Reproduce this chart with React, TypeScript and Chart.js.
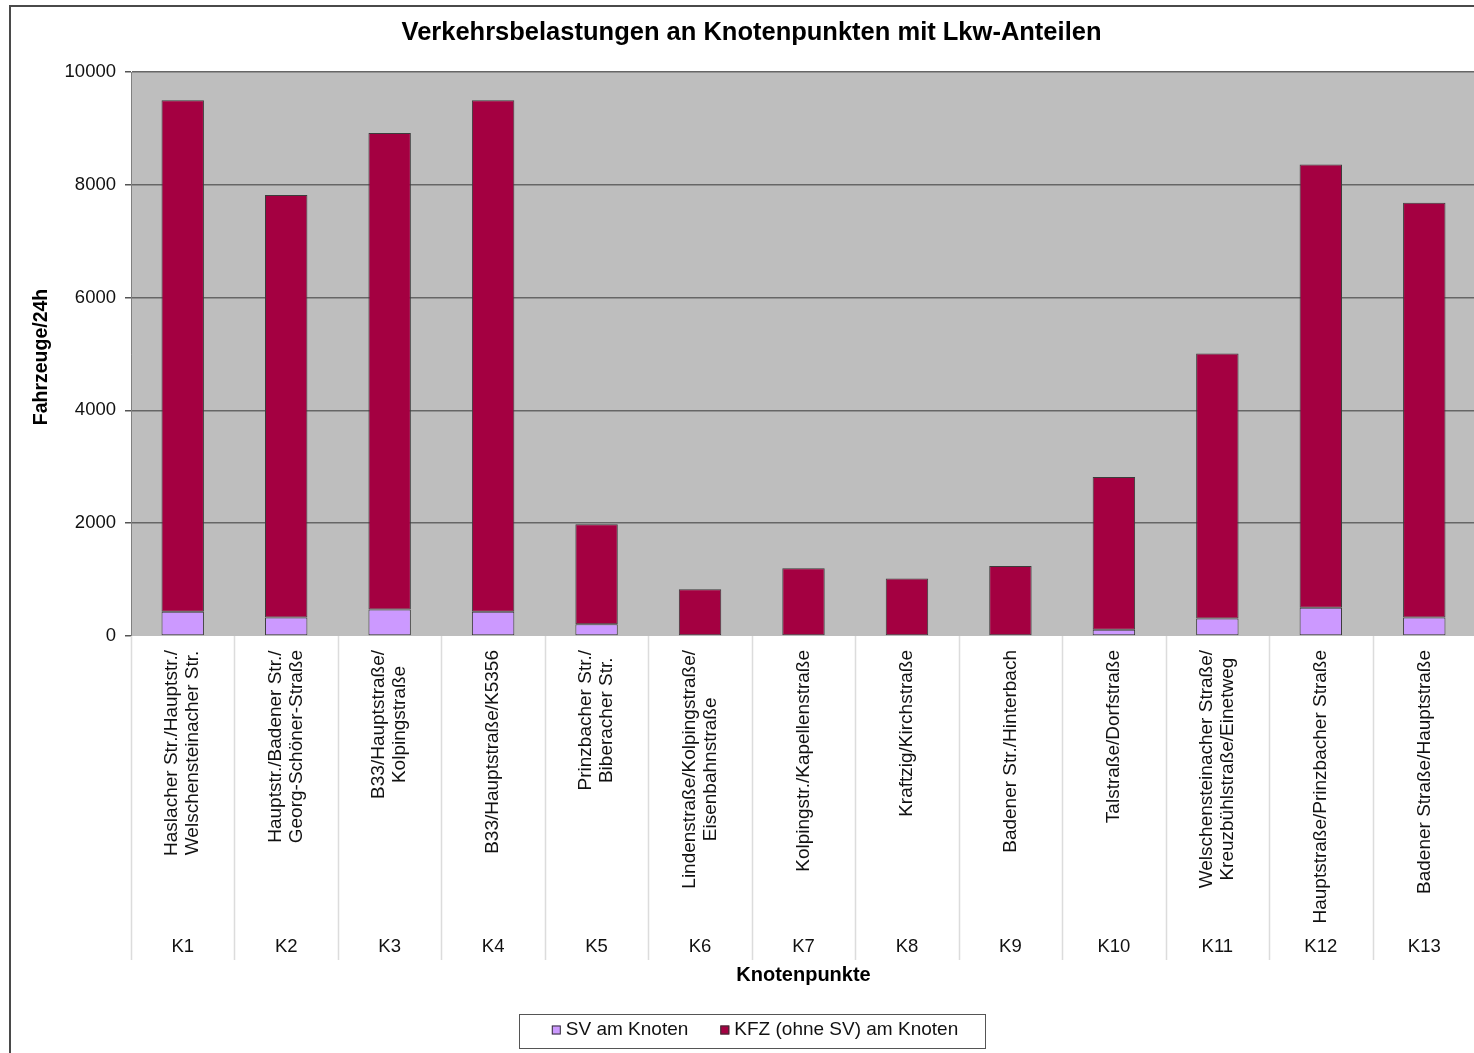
import React, { useEffect, useRef } from "react";
import { Chart, registerables } from "chart.js";

Chart.register(...registerables);

const chartTitle = "Verkehrsbelastungen an Knotenpunkten mit Lkw-Anteilen";
const yAxisTitle = "Fahrzeuge/24h";
const xAxisTitle = "Knotenpunkte";

const categories = ["K1", "K2", "K3", "K4", "K5", "K6", "K7", "K8", "K9", "K10", "K11", "K12", "K13"];

const streetLabels: string[][] = [
  ["Haslacher Str./Hauptstr./", "Welschensteinacher Str."],
  ["Hauptstr./Badener Str./", "Georg-Schöner-Straße"],
  ["B33/Hauptstraße/", "Kolpingstraße"],
  ["B33/Hauptstraße/K5356"],
  ["Prinzbacher Str./", "Biberacher Str."],
  ["Lindenstraße/Kolpingstraße/", "Eisenbahnstraße"],
  ["Kolpingstr./Kapellenstraße"],
  ["Kraftzig/Kirchstraße"],
  ["Badener Str./Hinterbach"],
  ["Talstraße/Dorfstraße"],
  ["Welschensteinacher Straße/", "Kreuzbühlstraße/Einetweg"],
  ["Hauptstraße/Prinzbacher Straße"],
  ["Badener Straße/Hauptstraße"],
];

const seriesNames = ["SV am Knoten", "KFZ (ohne SV) am Knoten"];
const svValues = [430, 330, 470, 430, 210, 0, 0, 0, 0, 110, 310, 500, 330];
const kfzValues = [9070, 7490, 8450, 9070, 1770, 830, 1200, 1020, 1240, 2710, 4700, 7860, 7350];

const yMin = 0;
const yMax = 10000;
const yStep = 2000;

const FONT = '"Liberation Sans", Arial, Helvetica, sans-serif';
const SV_COLOR = "#CC99FF";
const KFZ_COLOR = "#A40041";
const BAR_BORDER = "#3c3c3c";
const PLOT_BG = "#BEBEBE";

const CANVAS_W = 1490;
const CANVAS_H = 1053;

const customPlugin = {
  id: "customDecor",
  beforeDraw(chart: any) {
    const ctx = chart.ctx;
    const area = chart.chartArea;
    ctx.save();
    ctx.fillStyle = "#ffffff";
    ctx.fillRect(0, 0, chart.width, chart.height);
    // outer frame
    ctx.strokeStyle = "#4a4a4a";
    ctx.lineWidth = 2;
    ctx.strokeRect(10, 6, 2000, 2000);
    // plot background
    ctx.fillStyle = PLOT_BG;
    ctx.fillRect(area.left, area.top, area.right - area.left, area.bottom - area.top);
    ctx.restore();
  },
  afterDraw(chart: any) {
    const ctx = chart.ctx;
    const area = chart.chartArea;
    const xs = chart.scales.x;
    const n = categories.length;
    const catW = (xs.right - xs.left) / n;
    ctx.save();

    // title
    ctx.fillStyle = "#000";
    ctx.font = `bold 25.5px ${FONT}`;
    ctx.textAlign = "center";
    ctx.textBaseline = "middle";
    ctx.fillText(chartTitle, 751.5, 33);

    // y axis title
    ctx.save();
    ctx.translate(42, (area.top + area.bottom) / 2 + 3);
    ctx.rotate(-Math.PI / 2);
    ctx.font = `bold 19.5px ${FONT}`;
    ctx.fillText(yAxisTitle, 0, 0);
    ctx.restore();

    // category separators
    ctx.strokeStyle = "#dcdcdc";
    ctx.lineWidth = 1.5;
    for (let i = 0; i <= n; i++) {
      const bx = Math.round(xs.left + i * catW) + 0.5;
      ctx.beginPath();
      ctx.moveTo(bx, area.bottom);
      ctx.lineTo(bx, 960);
      ctx.stroke();
    }

    // rotated street labels
    ctx.fillStyle = "#111";
    ctx.font = `19px ${FONT}`;
    ctx.textAlign = "center";
    ctx.textBaseline = "middle";
    for (let i = 0; i < n; i++) {
      const cx = xs.getPixelForValue(i);
      const lines = streetLabels[i];
      let maxW = 0;
      lines.forEach((l) => {
        maxW = Math.max(maxW, ctx.measureText(l).width);
      });
      const cy = 650 + maxW / 2;
      lines.forEach((l, j) => {
        const lx = cx + (j - (lines.length - 1) / 2) * 21;
        ctx.save();
        ctx.translate(lx, cy);
        ctx.rotate(-Math.PI / 2);
        ctx.fillText(l, 0, 0);
        ctx.restore();
      });
    }

    // K codes
    ctx.font = `18.5px ${FONT}`;
    for (let i = 0; i < n; i++) {
      const cx = xs.getPixelForValue(i);
      ctx.fillText(categories[i], cx, 947);
    }

    // x axis title
    ctx.fillStyle = "#000";
    ctx.font = `bold 20px ${FONT}`;
    ctx.fillText(xAxisTitle, (area.left + area.right) / 2, 975);

    // legend
    ctx.font = `19px ${FONT}`;
    const w1 = ctx.measureText(seriesNames[0]).width;
    const w2 = ctx.measureText(seriesNames[1]).width;
    const box = 9;
    const gapBoxText = 5;
    const gapItems = 32;
    const total = box + gapBoxText + w1 + gapItems + box + gapBoxText + w2;
    const lcx = 755;
    const ly = 1030;
    let x0 = lcx - total / 2;
    // legend frame
    ctx.strokeStyle = "#555";
    ctx.lineWidth = 1;
    ctx.strokeRect(519.5, 1014.5, 466, 34);
    const colors = [SV_COLOR, KFZ_COLOR];
    const widths = [w1, w2];
    ctx.textAlign = "left";
    for (let k = 0; k < 2; k++) {
      ctx.fillStyle = colors[k];
      ctx.fillRect(x0, ly - box / 2, box, box);
      ctx.strokeStyle = "#333";
      ctx.strokeRect(x0 + 0.5, ly - box / 2 + 0.5, box - 1, box - 1);
      ctx.fillStyle = "#111";
      ctx.fillText(seriesNames[k], x0 + box + gapBoxText, ly);
      x0 += box + gapBoxText + widths[k] + gapItems;
    }
    ctx.restore();
  },
};

export default function App() {
  const canvasRef = useRef<HTMLCanvasElement | null>(null);

  useEffect(() => {
    const canvas = canvasRef.current;
    if (!canvas) return;
    const chart = new Chart(canvas, {
      type: "bar",
      data: {
        labels: categories,
        datasets: [
          {
            label: seriesNames[0],
            data: svValues,
            backgroundColor: SV_COLOR,
            borderColor: BAR_BORDER,
            borderWidth: 1,
            borderSkipped: false,
            barPercentage: 0.41,
            categoryPercentage: 1,
          },
          {
            label: seriesNames[1],
            data: kfzValues,
            backgroundColor: KFZ_COLOR,
            borderColor: BAR_BORDER,
            borderWidth: 1,
            borderSkipped: false,
            barPercentage: 0.41,
            categoryPercentage: 1,
          },
        ],
      },
      options: {
        responsive: false,
        animation: false,
        devicePixelRatio: 1,
        layout: { padding: { top: 72, right: 14, bottom: 0, left: 0 } },
        plugins: {
          legend: { display: false },
          title: { display: false },
          tooltip: { enabled: false },
        },
        scales: {
          x: {
            stacked: true,
            grid: { display: false },
            border: { display: false },
            ticks: { display: false },
            afterFit: (s: any) => {
              s.height = 417;
            },
          },
          y: {
            stacked: true,
            min: yMin,
            max: yMax,
            ticks: {
              stepSize: yStep,
              callback: (v: any) => String(v),
              font: { family: FONT, size: 18.5 },
              color: "#111",
              padding: 9,
            },
            grid: {
              color: (c: any) => (c.tick && c.tick.value === 0 ? "rgba(0,0,0,0)" : "#666666"),
              lineWidth: 1.5,
              tickColor: "#555",
              tickLength: 6,
              drawTicks: true,
            },
            border: { display: true, color: "#808080", width: 1 },
            afterFit: (s: any) => {
              s.width = 131;
            },
          },
        },
      },
      plugins: [customPlugin],
    } as any);
    return () => {
      chart.destroy();
    };
  }, []);

  return (
    <div
      style={{
        position: "fixed",
        left: 0,
        top: 0,
        width: 1474,
        height: 1053,
        overflow: "hidden",
        background: "#fff",
      }}
    >
      <canvas
        ref={canvasRef}
        width={CANVAS_W}
        height={CANVAS_H}
        style={{ width: CANVAS_W, height: CANVAS_H, display: "block" }}
      />
    </div>
  );
}
